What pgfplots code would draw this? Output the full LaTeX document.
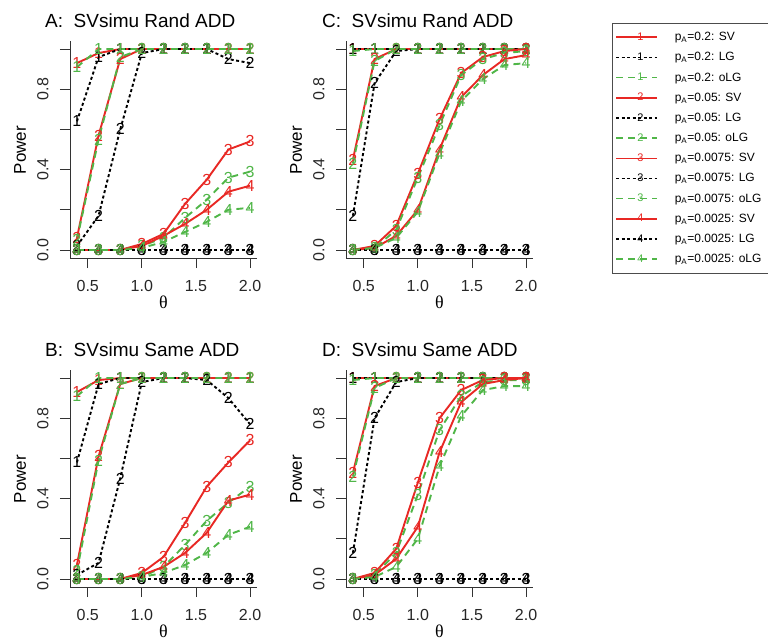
\documentclass[border=0pt]{standalone}
\usepackage{fontspec}
\setmainfont{Liberation Sans}
\newfontfamily\greekserif{Liberation Serif}
\usepackage{pgfplots}
\usepackage{pgfplotstable}
\pgfplotsset{compat=1.18}

\definecolor{svred}{RGB}{232,40,36}
\definecolor{olggreen}{RGB}{80,182,72}

% columns: s = SV, l = LG, o = oLG; 1..4 = pA 0.2, 0.05, 0.0075, 0.0025
\pgfplotstableread{
x    s1   l1   o1   s2   l2   o2   s3   l3   o3   s4   l4   o4
0.4  0.93 0.64 0.91 0.06 0.02 0.05 0.00 0.00 0.00 0.00 0.00 0.00
0.6  0.98 0.96 1.00 0.57 0.17 0.55 0.00 0.00 0.00 0.00 0.00 0.00
0.8  1.00 1.00 1.00 0.95 0.60 0.96 0.00 0.00 0.00 0.00 0.00 0.00
1.0  1.00 1.00 1.00 1.00 0.98 1.00 0.03 0.00 0.02 0.02 0.00 0.01
1.2  1.00 1.00 1.00 1.00 1.00 1.00 0.08 0.00 0.06 0.07 0.00 0.04
1.4  1.00 1.00 1.00 1.00 1.00 1.00 0.23 0.00 0.16 0.13 0.00 0.09
1.6  1.00 1.00 1.00 1.00 1.00 1.00 0.35 0.00 0.25 0.20 0.00 0.14
1.8  1.00 1.00 1.00 1.00 0.95 1.00 0.50 0.00 0.36 0.29 0.00 0.20
2.0  1.00 1.00 1.00 1.00 0.93 1.00 0.54 0.00 0.39 0.32 0.00 0.21
}\dataA
\pgfplotstableread{
x    s1   l1   o1   s2   l2   o2   s3   l3   o3   s4   l4   o4
0.4  1.00 1.00 0.99 0.45 0.17 0.43 0.00 0.00 0.00 0.00 0.00 0.00
0.6  1.00 1.00 1.00 0.95 0.83 0.94 0.02 0.00 0.01 0.01 0.00 0.01
0.8  1.00 1.00 1.00 1.00 0.99 1.00 0.12 0.00 0.10 0.07 0.00 0.06
1.0  1.00 1.00 1.00 1.00 1.00 1.00 0.38 0.00 0.36 0.20 0.00 0.19
1.2  1.00 1.00 1.00 1.00 1.00 1.00 0.65 0.00 0.62 0.50 0.00 0.48
1.4  1.00 1.00 1.00 1.00 1.00 1.00 0.88 0.00 0.87 0.76 0.00 0.74
1.6  1.00 1.00 1.00 1.00 1.00 1.00 0.96 0.00 0.95 0.87 0.00 0.85
1.8  1.00 1.00 1.00 1.00 1.00 1.00 0.99 0.00 0.98 0.95 0.00 0.92
2.0  1.00 1.00 1.00 1.00 1.00 1.00 1.00 0.00 0.99 0.97 0.00 0.93
}\dataC
\pgfplotstableread{
x    s1   l1   o1   s2   l2   o2   s3   l3   o3   s4   l4   o4
0.4  0.93 0.58 0.91 0.07 0.02 0.04 0.00 0.00 0.00 0.00 0.00 0.00
0.6  0.99 0.97 1.00 0.61 0.08 0.59 0.00 0.00 0.00 0.00 0.00 0.00
0.8  1.00 1.00 1.00 0.97 0.50 0.97 0.00 0.00 0.00 0.00 0.00 0.00
1.0  1.00 1.00 1.00 1.00 0.98 1.00 0.03 0.00 0.01 0.02 0.00 0.01
1.2  1.00 1.00 1.00 1.00 1.00 1.00 0.11 0.00 0.06 0.06 0.00 0.03
1.4  1.00 1.00 1.00 1.00 1.00 1.00 0.28 0.00 0.17 0.13 0.00 0.07
1.6  1.00 1.00 1.00 1.00 0.99 1.00 0.46 0.00 0.29 0.23 0.00 0.13
1.8  1.00 1.00 1.00 1.00 0.90 1.00 0.58 0.00 0.38 0.39 0.00 0.22
2.0  1.00 1.00 1.00 1.00 0.77 1.00 0.69 0.00 0.46 0.42 0.00 0.26
}\dataB
\pgfplotstableread{
x    s1   l1   o1   s2   l2   o2   s3   l3   o3   s4   l4   o4
0.4  1.00 1.00 0.99 0.53 0.13 0.51 0.00 0.00 0.00 0.00 0.00 0.00
0.6  1.00 1.00 1.00 0.96 0.80 0.95 0.03 0.00 0.02 0.02 0.00 0.01
0.8  1.00 1.00 1.00 1.00 0.98 1.00 0.15 0.00 0.13 0.10 0.00 0.06
1.0  1.00 1.00 1.00 1.00 1.00 1.00 0.48 0.00 0.42 0.26 0.00 0.20
1.2  1.00 1.00 1.00 1.00 1.00 1.00 0.80 0.00 0.74 0.63 0.00 0.56
1.4  1.00 1.00 1.00 1.00 1.00 1.00 0.94 0.00 0.91 0.88 0.00 0.81
1.6  1.00 1.00 1.00 1.00 1.00 1.00 0.99 0.00 0.98 0.97 0.00 0.94
1.8  1.00 1.00 1.00 1.00 1.00 1.00 1.00 0.00 0.99 0.99 0.00 0.96
2.0  1.00 1.00 1.00 1.00 1.00 1.00 1.00 0.00 0.99 1.00 0.00 0.96
}\dataD

\pgfplotsset{
  panel/.style={
    scale only axis, width=187pt, height=217pt,
    xmin=0.336, xmax=2.064, ymin=-0.04, ymax=1.04,
    axis x line*=bottom, axis y line*=left,
    axis line style={line width=0.8pt, black!80},
    tick align=outside, major tick length=10pt,
    tick style={line width=0.8pt, black!80},
    xtick={0.5,1,1.5,2}, xticklabels={0.5,1.0,1.5,2.0},
    ytick={0,0.2,0.4,0.6,0.8,1}, yticklabels={0.0,,0.4,,0.8,},
    ticklabel style={font=\fontsize{16}{16}\selectfont, black!85},
    xticklabel style={yshift=-9pt},
    yticklabel style={xshift=-8pt, rotate=90, anchor=south},
    xlabel={{\greekserif θ}},
    xlabel style={at={(axis description cs:0.5,0)}, anchor=center, yshift=-44pt, font=\fontsize{18}{18}\selectfont},
    clip=false,
    text mark as node=true,
    text mark style={font=\fontsize{16}{16}\selectfont, inner sep=0pt},
    legend image code/.code={
      \draw[mark repeat=2, mark phase=2] plot coordinates {(0pt,0pt) (20.5pt,0pt) (41pt,0pt)};
    },
  },
  sv/.style={svred, line width=1.9pt, mark=text, text mark={#1}},
  lg/.style={black, line width=1.9pt, dash pattern=on 3pt off 2.5pt, mark=text, text mark={#1}},
  olg/.style={olggreen, line width=1.9pt, dash pattern=on 7pt off 5pt, mark=text, text mark={#1}},
}

\newcommand{\panelplots}[1]{%
  \addplot[sv=1]  table[x=x, y=s1] {#1};
  \addplot[lg=1]  table[x=x, y=l1] {#1};
  \addplot[olg=1] table[x=x, y=o1] {#1};
  \addplot[sv=2]  table[x=x, y=s2] {#1};
  \addplot[lg=2]  table[x=x, y=l2] {#1};
  \addplot[olg=2] table[x=x, y=o2] {#1};
  \addplot[sv=3]  table[x=x, y=s3] {#1};
  \addplot[lg=3]  table[x=x, y=l3] {#1};
  \addplot[olg=3] table[x=x, y=o3] {#1};
  \addplot[sv=4]  table[x=x, y=s4] {#1};
  \addplot[lg=4]  table[x=x, y=l4] {#1};
  \addplot[olg=4] table[x=x, y=o4] {#1};
}

\newcommand{\entry}[2]{\makebox[125pt][l]{\hspace{15pt}p\textsubscript{A}=#1: #2}}

\begin{document}
\begin{tikzpicture}
\tikzset{ttl/.style={anchor=base west, inner sep=0pt, font=\fontsize{19}{19}\selectfont},
  ylab/.style={rotate=90, anchor=center, inner sep=0pt, font=\fontsize{17}{17}\selectfont}}

% A
\begin{axis}[panel, at={(70pt,383pt)}, anchor=south west]
  \panelplots{\dataA}
\end{axis}
\node[ttl] at (45pt,613pt) {A:\ \ SVsimu Rand ADD};
\node[ylab] at (20pt,491pt) {Power};

% C
\begin{axis}[panel, at={(346pt,383pt)}, anchor=south west,
  legend style={at={(axis description cs:1.422,1.083)}, anchor=north west,
    draw=black!70, line width=0.6pt, font=\fontsize{12}{12}\selectfont,
    row sep=6.3pt, inner ysep=7pt},
  legend cell align=left,
  legend image post style={line width=1.6pt, text mark style={font=\fontsize{11}{11}\selectfont, inner sep=0pt}}]
  \panelplots{\dataC}
  \legend{\entry{0.2}{SV}, \entry{0.2}{LG}, \entry{0.2}{oLG},
          \entry{0.05}{SV}, \entry{0.05}{LG}, \entry{0.05}{oLG},
          \entry{0.0075}{SV}, \entry{0.0075}{LG}, \entry{0.0075}{oLG},
          \entry{0.0025}{SV}, \entry{0.0025}{LG}, \entry{0.0025}{oLG}}
\end{axis}
\node[ttl] at (322pt,613pt) {C:\ \ SVsimu Rand ADD};
\node[ylab] at (296pt,491pt) {Power};

% B
\begin{axis}[panel, at={(70pt,54pt)}, anchor=south west]
  \panelplots{\dataB}
\end{axis}
\node[ttl] at (45pt,285pt) {B:\ \ SVsimu Same ADD};
\node[ylab] at (20pt,162pt) {Power};

% D
\begin{axis}[panel, at={(346pt,54pt)}, anchor=south west]
  \panelplots{\dataD}
\end{axis}
\node[ttl] at (322pt,285pt) {D:\ \ SVsimu Same ADD};
\node[ylab] at (296pt,162pt) {Power};

\pgfresetboundingbox
\useasboundingbox (0pt,0pt) rectangle (768pt,641pt);
\end{tikzpicture}
\end{document}
